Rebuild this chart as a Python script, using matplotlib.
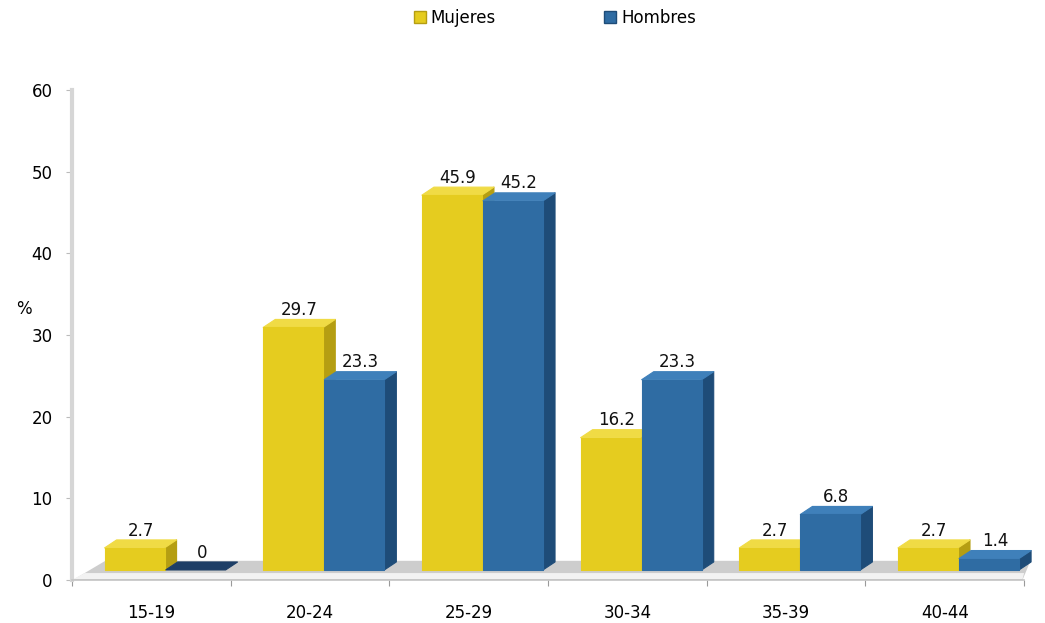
import matplotlib.pyplot as plt
import numpy as np
from matplotlib.patches import Polygon, Rectangle, Patch

plt.rcParams['font.family'] = ['DejaVu Sans']

# data
age_groups = ["15-19", "20-24", "25-29", "30-34", "35-39", "40-44"]
mujeres = [2.7, 29.7, 45.9, 16.2, 2.7, 2.7]
hombres = [0, 23.3, 45.2, 23.3, 6.8, 1.4]
series_names = ["Mujeres", "Hombres"]

# look of the fake 3d columns
base = 1.23          # front face bottom, sits on the floor slab
depth_x = 0.076      # depth offset in category units
depth_y = 0.98       # depth offset in value units
bar_w = 0.378
offsets = [0.205, 0.59]
colours = [
    {"front": "#E5CC1F", "side": "#B59E12", "top": "#F0DB45"},
    {"front": "#2F6CA3", "side": "#1E4C78", "top": "#3F80BA"},
]
zero_colour = "#1D3E66"

fig = plt.figure(figsize=(10.45, 6.23), dpi=100)
ax = fig.add_axes([0.0689, 0.069, 0.9111, 0.7865])
ax.set_xlim(0, 6)
ax.set_ylim(0, 60)

# floor slab
floor = Polygon([(0.006, 0), (0.21, 2.35), (6.04, 2.35), (5.99, 0)],
                closed=True, facecolor="#CDCDCD", edgecolor="none",
                zorder=1, clip_on=False)
ax.add_patch(floor)
strip = Polygon([(0.006, 0.1), (0.08, 0.85), (6.0, 0.85), (5.99, 0.1)],
                closed=True, facecolor="#F2F2F2", edgecolor="none",
                zorder=1.5, clip_on=False)
ax.add_patch(strip)


def draw_bar(x, v, col, z):
    t = base + v
    if v <= 0:
        ax.add_patch(Polygon([(x, base), (x + depth_x, base + depth_y),
                              (x + bar_w + depth_x, base + depth_y), (x + bar_w, base)],
                             closed=True, facecolor=zero_colour, edgecolor=zero_colour,
                             lw=0.8, zorder=z, clip_on=False))
        return base
    ax.add_patch(Polygon([(x + bar_w, base), (x + bar_w + depth_x, base + depth_y),
                          (x + bar_w + depth_x, t + depth_y), (x + bar_w, t)],
                         closed=True, facecolor=col["side"], edgecolor=col["side"],
                         lw=0.8, joinstyle="round", zorder=z, clip_on=False))
    ax.add_patch(Polygon([(x, t), (x + depth_x, t + depth_y),
                          (x + bar_w + depth_x, t + depth_y), (x + bar_w, t)],
                         closed=True, facecolor=col["top"], edgecolor=col["top"],
                         lw=0.8, joinstyle="round", zorder=z, clip_on=False))
    ax.add_patch(Rectangle((x, base), bar_w, v, facecolor=col["front"],
                           edgecolor=col["front"], lw=0.8, joinstyle="round",
                           zorder=z, clip_on=False))
    return t


for i in range(len(age_groups)):
    for s, vals in enumerate([mujeres, hombres]):
        x = i + offsets[s]
        t = draw_bar(x, vals[i], colours[s], 2 + i + 0.1 * s)
        label = "{:g}".format(vals[i])
        ax.text(x + (bar_w + depth_x) / 2, t + depth_y + 1.15, label,
                ha="center", va="center", fontsize=12, color="#111111", zorder=10)

# axes styling
ax.set_yticks(np.arange(0, 61, 10))
ax.set_xticks(np.arange(0, 7, 1))
ax.set_xticklabels([])
ax.set_xticks(np.arange(len(age_groups)) + 0.5, minor=True)
ax.set_xticklabels(age_groups, minor=True)
ax.tick_params(axis="x", which="minor", length=0, pad=17, labelsize=12)
ax.tick_params(axis="x", which="major", direction="out", length=4, color="#9A9A9A")
ax.tick_params(axis="y", direction="out", length=4, color="#BBBBBB", labelsize=12, pad=10)
for sp in ["top", "right"]:
    ax.spines[sp].set_visible(False)
ax.spines["left"].set_color("#D6D6D6")
ax.spines["left"].set_linewidth(3)
ax.spines["bottom"].set_color("#C4C4C4")
ax.spines["bottom"].set_linewidth(1.2)
ax.set_ylabel("%", rotation=0, fontsize=12)
ax.yaxis.set_label_coords(-0.05, 0.535)

handles = [Patch(facecolor=colours[0]["front"], edgecolor=colours[0]["side"]),
           Patch(facecolor=colours[1]["front"], edgecolor=colours[1]["side"])]
fig.legend(handles, series_names, loc="upper center", bbox_to_anchor=(0.531, 1.01),
           ncol=2, frameon=False, fontsize=12, handlelength=0.7, handleheight=0.7,
           handletextpad=0.3, columnspacing=6.5)

fig.savefig("out.png", dpi=100)
